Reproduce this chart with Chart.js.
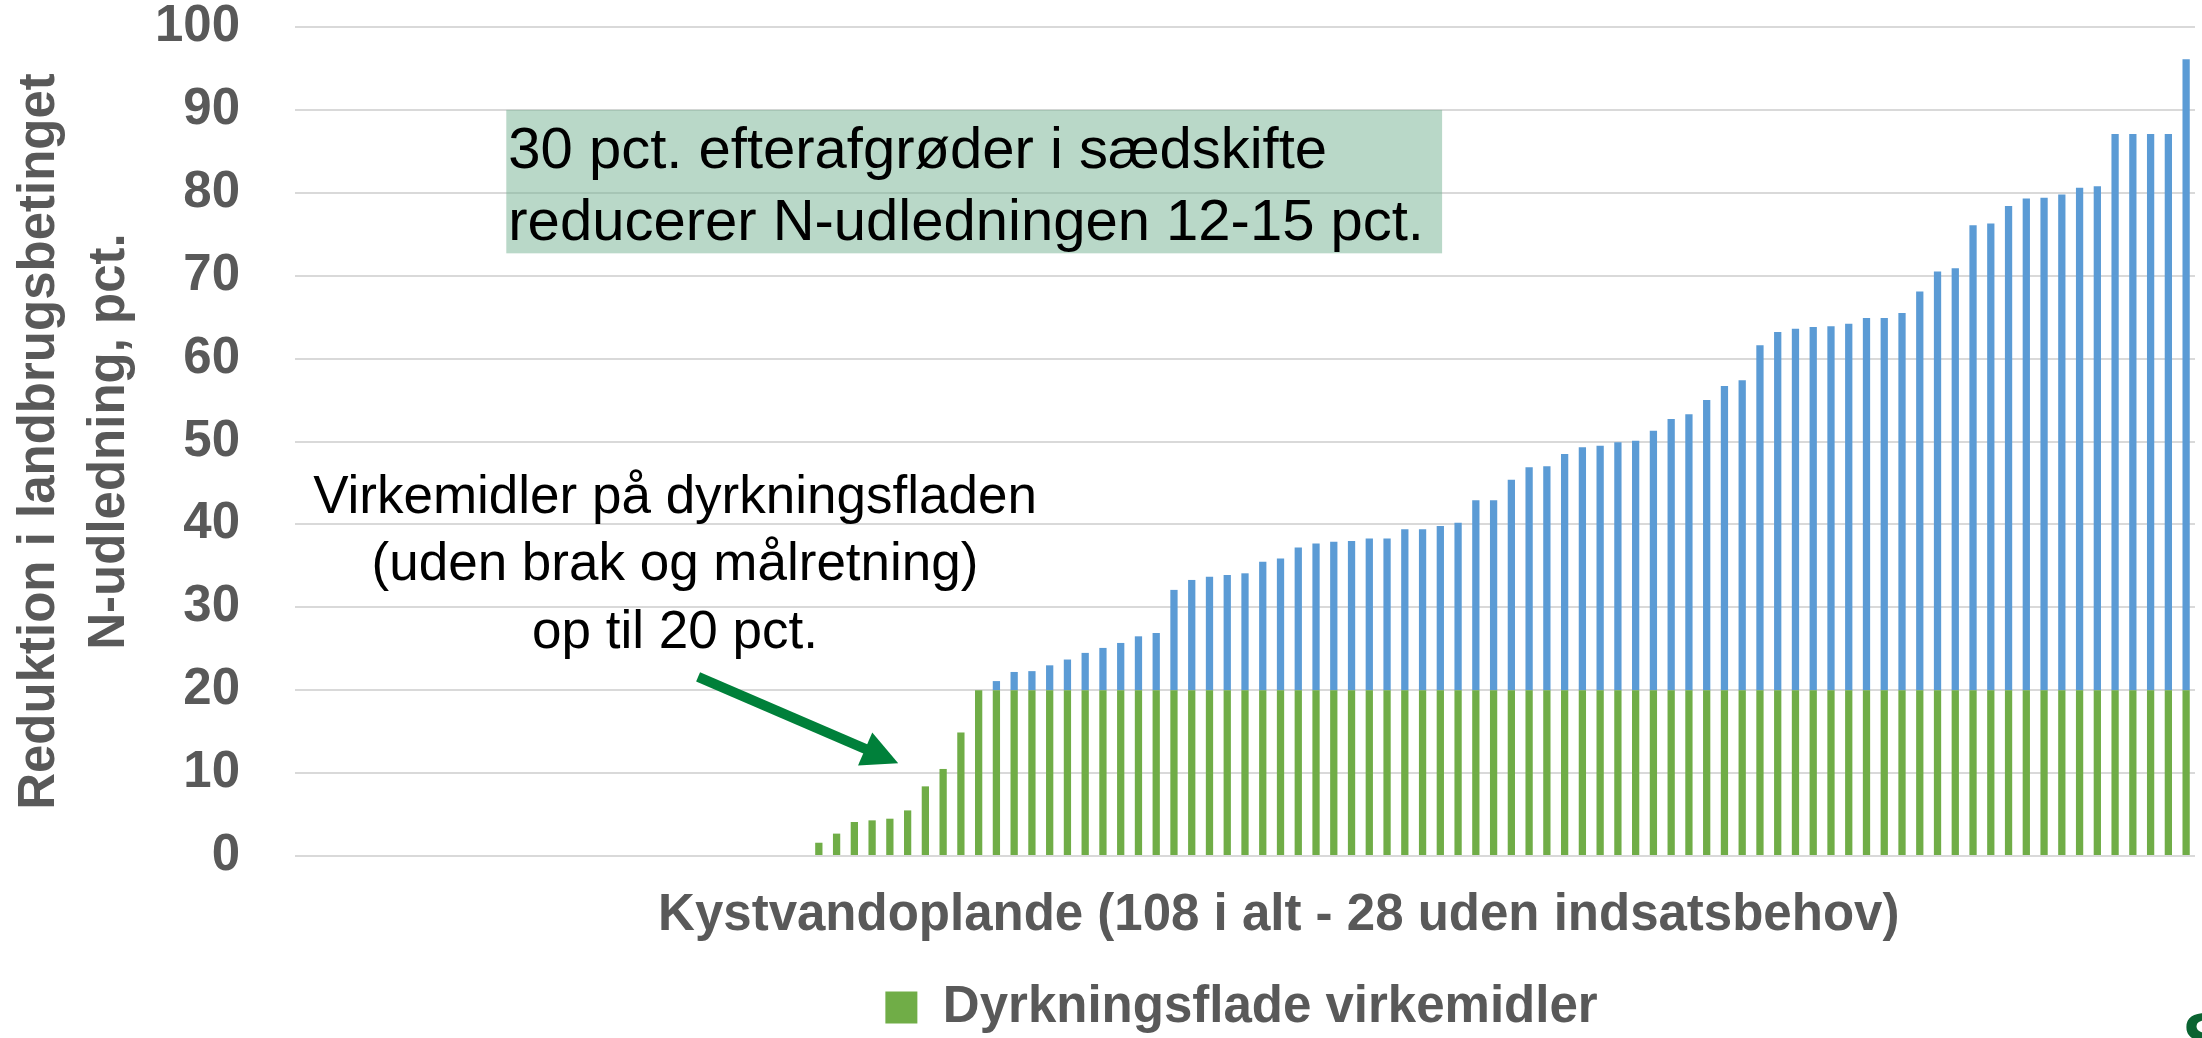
<!DOCTYPE html>
<html lang="da">
<head>
<meta charset="utf-8">
<title>Reduktion i landbrugsbetinget N-udledning</title>
<script src="https://cdn.jsdelivr.net/npm/chart.js@4.4.1/dist/chart.umd.min.js"></script>
<style>
  html, body { margin: 0; padding: 0; background: #fff; overflow: hidden; }
  #wrap { position: relative; width: 2202px; height: 1038px; }
  #logo {
    position: absolute; left: 2182px; top: 1003px;
    font: bold 72px/1 "Liberation Sans", Arial, sans-serif; color: #0a6331;
  }
</style>
</head>
<body>
<div id="wrap">
  <canvas id="myChart"></canvas>
  <div id="logo">S</div>
</div>
<script>
// 107 kystvandoplande, sorteret efter samlet reduktionsbehov
const antalOplande = 107;
const labels = Array.from({ length: antalOplande }, (_, i) => `Opland ${i + 1}`);

// reduktion via dyrkningsflade-virkemidler (pct.), max 20
const dyrkningsflade = [
  0, 0, 0, 0, 0, 0, 0, 0, 0, 0,
  0, 0, 0, 0, 0, 0, 0, 0, 0, 0,
  0, 0, 0, 0, 0, 0, 0, 0, 0, 1.6,
  2.7, 4.1, 4.3, 4.5, 5.5, 8.4, 10.5, 14.9, 20, 20,
  20, 20, 20, 20, 20, 20, 20, 20, 20, 20,
  20, 20, 20, 20, 20, 20, 20, 20, 20, 20,
  20, 20, 20, 20, 20, 20, 20, 20, 20, 20,
  20, 20, 20, 20, 20, 20, 20, 20, 20, 20,
  20, 20, 20, 20, 20, 20, 20, 20, 20, 20,
  20, 20, 20, 20, 20, 20, 20, 20, 20, 20,
  20, 20, 20, 20, 20, 20, 20,
];

// resterende behov ud over de 20 pct.
const restbehov = [
  0, 0, 0, 0, 0, 0, 0, 0, 0, 0,
  0, 0, 0, 0, 0, 0, 0, 0, 0, 0,
  0, 0, 0, 0, 0, 0, 0, 0, 0, 0,
  0, 0, 0, 0, 0, 0, 0, 0, 0, 1.1,
  2.2, 2.3, 3.0, 3.7, 4.5, 5.1, 5.7, 6.5, 6.9, 12.1,
  13.3, 13.7, 13.9, 14.1, 15.5, 15.9, 17.2, 17.7, 17.9, 18.0,
  18.3, 18.3, 19.4, 19.4, 19.8, 20.2, 22.9, 22.9, 25.4, 26.9,
  27.0, 28.5, 29.3, 29.5, 29.9, 30.1, 31.3, 32.7, 33.3, 35.0,
  36.7, 37.4, 41.6, 43.2, 43.6, 43.8, 43.9, 44.2, 44.9, 44.9,
  45.5, 48.1, 50.5, 50.9, 56.1, 56.3, 58.4, 59.3, 59.4, 59.8,
  60.6, 60.8, 67.1, 67.1, 67.1, 67.1, 76.1,
];

const yTicks = [0, 10, 20, 30, 40, 50, 60, 70, 80, 90, 100];

const xTitel = "Kystvandoplande (108 i alt - 28 uden indsatsbehov)";
const boksTekst = ["30 pct. efterafgrøder i sædskifte", "reducerer N-udledningen 12-15 pct."];
const noteTekst = ["Virkemidler på dyrkningsfladen", "(uden brak og målretning)", "op til 20 pct."];

const GRAA = "#595959";
const GROEN = "#70AD47";
const BLAA = "#5B9BD5";
const FONT = "'Liberation Sans', Arial, sans-serif";

Chart.defaults.font.family = FONT;

// tekstboks, note, pil og x-titel placeres i data-koordinater
const annotations = {
  id: "annotations",
  beforeDatasetsDraw(chart) {
    const { ctx, scales: { x, y } } = chart;
    const left = x.getPixelForValue(11.4);
    const right = x.getPixelForValue(64.1);
    const top = y.getPixelForValue(90);
    const bottom = y.getPixelForValue(72.7);
    ctx.save();
    ctx.fillStyle = "rgba(115, 177, 145, 0.5)";
    ctx.fillRect(left, top, right - left, bottom - top);
    ctx.restore();
  },
  afterDatasetsDraw(chart) {
    const { ctx, scales: { x, y } } = chart;
    ctx.save();

    // x-titel (sidder lidt til hoejre for plottets midte)
    ctx.fillStyle = GRAA;
    ctx.font = `bold 51px ${FONT}`;
    ctx.textAlign = "center";
    ctx.textBaseline = "middle";
    ctx.fillText(xTitel, x.getPixelForValue(54.9), x.top + 60);

    ctx.fillStyle = "#000";

    // boks-tekst
    ctx.font = `58px ${FONT}`;
    ctx.textAlign = "left";
    ctx.textBaseline = "alphabetic";
    const tx = x.getPixelForValue(11.4) + 2;
    ctx.fillText(boksTekst[0], tx, y.getPixelForValue(83.0));
    ctx.fillText(boksTekst[1], tx, y.getPixelForValue(74.3));

    // note
    ctx.font = `53px ${FONT}`;
    ctx.textAlign = "center";
    ctx.textBaseline = "middle";
    const nx = x.getPixelForValue(20.9);
    [43.1, 35.0, 26.9].forEach((v, i) => {
      ctx.fillText(noteTekst[i], nx, y.getPixelForValue(v));
    });

    // pil
    const x1 = x.getPixelForValue(22.2), y1 = y.getPixelForValue(21.6);
    const x2 = x.getPixelForValue(33.47), y2 = y.getPixelForValue(11.2);
    const ang = Math.atan2(y2 - y1, x2 - x1);
    const head = 36, half = 18;
    const bx = x2 - head * Math.cos(ang);
    const by = y2 - head * Math.sin(ang);
    ctx.strokeStyle = "#00803a";
    ctx.fillStyle = "#00803a";
    ctx.lineWidth = 10;
    ctx.beginPath();
    ctx.moveTo(x1, y1);
    ctx.lineTo(bx + 2 * Math.cos(ang), by + 2 * Math.sin(ang));
    ctx.stroke();
    ctx.beginPath();
    ctx.moveTo(x2, y2);
    ctx.lineTo(bx - half * Math.sin(ang), by + half * Math.cos(ang));
    ctx.lineTo(bx + half * Math.sin(ang), by - half * Math.cos(ang));
    ctx.closePath();
    ctx.fill();
    ctx.restore();
  },
  afterLayout(chart) {
    // legenden sidder lidt til hoejre for midten i originalen
    chart.legend.left += 288;
  },
};

new Chart(document.getElementById("myChart"), {
  type: "bar",
  data: {
    labels,
    datasets: [
      {
        label: "Dyrkningsflade virkemidler",
        data: dyrkningsflade,
        backgroundColor: GROEN,
        borderWidth: 0,
        barPercentage: 0.41,
        categoryPercentage: 1.0,
      },
      {
        label: "Restbehov",
        data: restbehov,
        backgroundColor: BLAA,
        borderWidth: 0,
        barPercentage: 0.41,
        categoryPercentage: 1.0,
      },
    ],
  },
  options: {
    responsive: true,
    maintainAspectRatio: false,
    animation: false,
    devicePixelRatio: 1,
    layout: {
      padding: { left: 0, right: 7, top: 0, bottom: -5 },
    },
    plugins: {
      tooltip: { enabled: false },
      legend: {
        position: "bottom",
        labels: {
          color: GRAA,
          boxWidth: 32,
          boxHeight: 32,
          padding: 10,
          font: { size: 51, weight: "bold" },
          filter: (item) => item.datasetIndex === 0,
        },
      },
    },
    scales: {
      x: {
        stacked: true,
        grid: { display: false, drawTicks: false },
        border: { display: false },
        ticks: { display: false },
        afterFit: (scale) => {
          scale.height = 116;
        },
      },
      y: {
        stacked: true,
        min: 0,
        max: 100,
        afterBuildTicks: (scale) => {
          scale.ticks = yTicks.map((v) => ({ value: v }));
        },
        afterFit: (scale) => {
          scale.width = 295;
          scale.paddingTop = 27;
          scale.paddingBottom = 27;
        },
        grid: { color: "#d9d9d9", lineWidth: 2, drawTicks: false },
        border: { display: false },
        ticks: {
          color: GRAA,
          padding: 55,
          font: { size: 51, weight: "bold", lineHeight: 1.05 },
        },
        title: {
          display: true,
          text: ["Reduktion i landbrugsbetinget", "N-udledning, pct."],
          color: GRAA,
          font: { size: 51, weight: "bold", lineHeight: 1.39 },
          padding: { top: 4, bottom: 0 },
        },
      },
    },
  },
  plugins: [annotations],
});
</script>
</body>
</html>
